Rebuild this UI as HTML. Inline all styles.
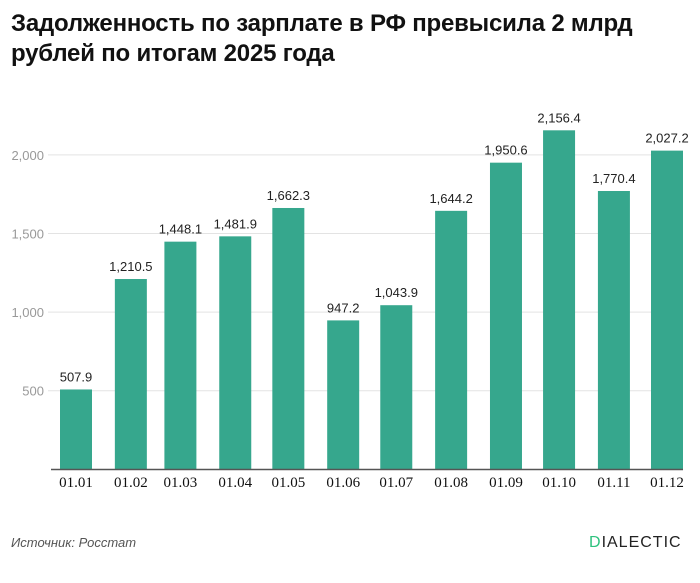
<!DOCTYPE html>
<html><head><meta charset="utf-8"><style>
body{margin:0;background:#fff;width:700px;height:583px;overflow:hidden;font-family:"Liberation Sans",sans-serif}
h1{position:absolute;left:11px;top:9px;margin:0;font-size:24px;line-height:30px;font-weight:bold;color:#111;letter-spacing:-0.2px}
</style></head><body>
<h1>Задолженность по зарплате в РФ превысила 2 млрд<br>рублей по итогам 2025 года</h1>
<svg id="c" width="700" height="583" style="position:absolute;left:0;top:0"></svg>
<div style="position:absolute;left:11px;top:535px;font-size:13px;font-style:italic;color:#555">Источник: Росстат</div>
<div style="position:absolute;left:589px;top:534px;font-size:16px;letter-spacing:1px;color:#222"><span style="color:#2ec27e">D</span>IALECTIC</div>
<script>
const categories=["01.01","01.02","01.03","01.04","01.05","01.06","01.07","01.08","01.09","01.10","01.11","01.12"];
const dayOfYear=[0,31,59,90,120,151,181,212,243,273,304,334];
const values=[507.9,1210.5,1448.1,1481.9,1662.3,947.2,1043.9,1644.2,1950.6,2156.4,1770.4,2027.2];
const valueLabels=["507.9","1,210.5","1,448.1","1,481.9","1,662.3","947.2","1,043.9","1,644.2","1,950.6","2,156.4","1,770.4","2,027.2"];
const yTicks=[500,1000,1500,2000];
const yTickLabels=["500","1,000","1,500","2,000"];
const svg=document.getElementById('c');const NS='http://www.w3.org/2000/svg';
const y=v=>469.3-v*78.6/500;
const x=d=>60+d*(591/334);
const BW=32;
function mk(t,a){const e=document.createElementNS(NS,t);for(const k in a)e.setAttribute(k,a[k]);svg.appendChild(e);return e;}
yTicks.forEach((t,i)=>{
 const g=mk('line',{x1:48,x2:683,y1:y(t),y2:y(t),stroke:'#e3e3e3','stroke-width':1});
 
 
 const l=mk('text',{x:44,y:y(t)+5,'text-anchor':'end','font-size':13,fill:'#999','font-family':'Liberation Sans,sans-serif'});
 l.textContent=yTickLabels[i];
 
 
});
values.forEach((v,i)=>{
 const bx=x(dayOfYear[i]);
 const r=mk('rect',{x:bx,y:y(v),width:BW,height:y(0)-y(v),fill:'#36a78d'});
 
 
 const t=mk('text',{x:bx+BW/2,y:y(v)-8,'text-anchor':'middle','font-size':13,fill:'#222','font-family':'Liberation Sans,sans-serif'});
 t.textContent=valueLabels[i];
 
 
 const c=mk('text',{x:bx+BW/2,y:487,'text-anchor':'middle','font-size':15,fill:'#111','font-family':'Liberation Serif,serif'});
 c.textContent=categories[i];
 
 
});
const ax=mk('line',{x1:51,x2:683,y1:469.5,y2:469.5,stroke:'#555','stroke-width':1.5});


</script>
</body></html>
